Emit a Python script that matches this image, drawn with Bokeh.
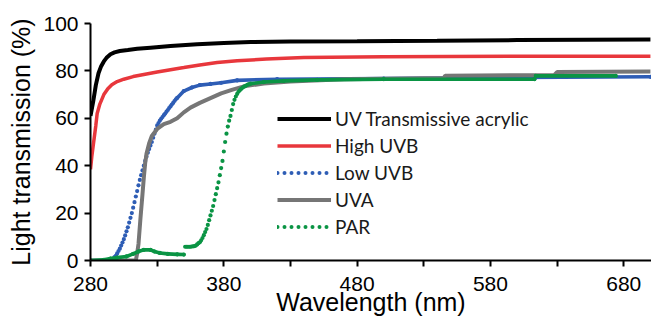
import math
from bokeh.plotting import figure
from bokeh.models import Legend, LegendItem, FixedTicker, Range1d
from bokeh.embed import file_html
from bokeh.resources import INLINE

nan = float("nan")

# UV Transmissive acrylic
wl_acrylic = [280, 282, 284, 286, 288, 290, 292, 295, 298, 302, 308, 315, 325, 340, 360, 380, 400, 430, 480, 540, 600, 650, 700]
tr_acrylic = [61, 67, 74, 79, 82, 84, 85.5, 87, 87.8, 88.4, 88.8, 89.3, 89.8, 90.5, 91.2, 91.8, 92.2, 92.4, 92.5, 92.7, 93.0, 93.1, 93.2]

# High UVB
wl_high = [280, 281, 282.5, 284, 285, 287, 290, 293, 296, 300, 305, 312, 320, 330, 340, 350, 362, 375, 390, 412, 440, 500, 600, 700]
tr_high = [38.5, 44, 50.5, 57, 62, 66, 70, 72.5, 74.2, 75.5, 76.5, 77.6, 78.5, 79.5, 80.5, 81.4, 82.5, 83.5, 84.3, 85.0, 85.7, 86.0, 86.2, 86.2]

# Low UVB (1 nm readings across the steep rise)
wl_low = [280, 290, 295,
          296, 297, 298, 299, 300, 301, 302, 303, 304, 305, 306, 307, 308, 309, 310,
          311, 312, 313, 314, 315, 316, 317, 318, 319, 320, 321, 322, 323, 324, 325,
          326, 327, 328, 329, 330, 331, 332, 333, 334, 335, 336, 337, 338, 339, 340,
          341, 342, 343, 344, 345,
          350, 356, 362, 370, 378, 390, 420, 500, 600, 700]
tr_low = [0, 0, 0.1,
          0.3, 0.8, 1.4, 2.0, 3.0, 4.0, 5.0, 6.3, 7.6, 9.0, 10.6, 12.3, 14.0, 16.0, 18.0,
          20.0, 22.3, 24.6, 27.0, 29.3, 31.7, 34.0, 36.0, 38.0, 40.0, 42.0, 43.8, 45.5, 47.0, 48.5,
          50.0, 51.8, 53.5, 55.2, 57.0, 58.0, 59.0, 59.8, 60.5, 61.3, 62.0, 62.8, 63.5, 64.3, 65.0,
          65.8, 66.5, 67.3, 68.0, 68.6,
          71.5, 73.0, 74.0, 74.5, 75.0, 76.0, 76.5, 76.8, 77.2, 77.5]

# UVA
wl_uva = [280, 300, 314, 315, 316, 317.5, 319, 320, 321, 322, 324, 326, 330, 335, 340, 345, 350, 355, 362, 370, 378, 386, 395, 410, 430, 470, 545, 546, 628, 630, 700]
tr_uva = [0, 0, 0, 3, 7, 18, 28, 35, 41, 45, 49.5, 52.5, 55.5, 57.5, 58.5, 60, 62.5, 64.5, 66.5, 68.5, 70.5, 72, 73.5, 74.7, 75.5, 76.5, 77, 78, 78.3, 79.5, 79.7]

# PAR (1 nm readings across the steep rise; break at 350 nm)
wl_par = [280, 290, 295, 300, 307, 312, 316, 320, 325, 328, 332, 338, 345, 350, 350.5,
          351, 352, 353, 354, 355, 356, 357, 358, 359, 360, 361, 362, 363, 364, 365,
          366, 367, 368, 369, 370, 371, 372, 373, 374, 375, 376, 377, 378, 379, 380,
          381, 382, 383, 384, 385, 386, 387, 388, 389, 390, 391, 392, 393, 394, 395,
          396, 397, 398, 399, 400,
          410, 425, 450, 500, 613, 614, 674]
tr_par = [0, 0.3, 0.8, 1.2, 1.7, 2.8, 3.8, 4.5, 4.5, 3.8, 3.2, 2.8, 2.6, 2.5, nan,
          5.8, 5.8, 5.8, 5.8, 5.8, 5.9, 6.0, 6.1, 6.3, 6.8, 7.3, 7.7, 8.5, 9.5, 10.7,
          12.0, 13.3, 15.0, 17.0, 19.0, 21.0, 23.0, 25.5, 28.0, 30.5, 33.0, 36.0, 39.0, 42.0, 46.0,
          50.0, 53.5, 56.5, 59.0, 61.0, 63.5, 66.0, 67.8, 69.2, 70.3, 71.2, 71.8, 72.4, 72.9, 73.3,
          73.6, 73.9, 74.2, 74.4, 74.6,
          75.3, 75.8, 76.2, 76.5, 76.5, 77.9, 77.9]

series_labels = ["UV Transmissive acrylic", "High UVB", "Low UVB", "UVA", "PAR"]
x_ticks = [280, 330, 380, 430, 480, 530, 580, 630, 680]
y_ticks = [0, 20, 40, 60, 80, 100]
x_title = "Wavelength (nm)"
y_title = "Light transmission (%)"

C_BLACK, C_RED, C_BLUE, C_GRAY, C_GREEN = "#000000", "#e8373c", "#2e5db5", "#767676", "#0a9444"

p = figure(width=651, height=321, output_backend="svg", toolbar_location=None,
           x_range=Range1d(280, 700.8), y_range=Range1d(0, 100),
           min_border_left=90, min_border_right=0, min_border_top=23, min_border_bottom=61)
p.outline_line_color = None
p.grid.visible = False
p.background_fill_color = "white"
p.border_fill_color = "white"


def dotted_series(xs, ys, color):
    # dots at every reading; coarse stretches (sparse readings) joined by solid segments
    x0, y0, x1, y1 = [], [], [], []
    for i in range(len(xs) - 1):
        if xs[i + 1] - xs[i] > 1.5 and not (math.isnan(ys[i]) or math.isnan(ys[i + 1])):
            x0.append(xs[i]); y0.append(ys[i]); x1.append(xs[i + 1]); y1.append(ys[i + 1])
    p.segment(x0, y0, x1, y1, line_color=color, line_width=3.6, line_cap="round")
    px = [x for x, y in zip(xs, ys) if not math.isnan(y)]
    py = [y for y in ys if not math.isnan(y)]
    p.scatter(px, py, marker="circle", size=4.2, fill_color=color, line_color=None)
    # legend stand-in (draws nothing in the plot)
    return p.line([nan, nan], [nan, nan], line_color=color, line_width=4, line_dash="0 7", line_cap="round")


r1 = p.line(wl_acrylic, tr_acrylic, line_color=C_BLACK, line_width=4)
r2 = p.line(wl_high, tr_high, line_color=C_RED, line_width=3.5)
r3 = dotted_series(wl_low, tr_low, C_BLUE)
r4 = p.line(wl_uva, tr_uva, line_color=C_GRAY, line_width=4)
r5 = dotted_series(wl_par, tr_par, C_GREEN)

for ax in (p.xaxis[0], p.yaxis[0]):
    ax.axis_line_width = 2
    ax.major_tick_line_width = 2
    ax.major_tick_out = 6
    ax.major_tick_in = 0
    ax.minor_tick_line_color = None
    ax.major_label_text_font = "Liberation Sans"
    ax.major_label_text_font_size = "21px"
    ax.major_label_text_color = "black"
    ax.axis_label_text_font = "Liberation Sans"
    ax.axis_label_text_font_style = "normal"
    ax.axis_label_text_font_size = "25px"
    ax.axis_label_text_color = "black"

p.xaxis[0].ticker = FixedTicker(ticks=x_ticks)
p.xaxis[0].major_label_overrides = {t: ("" if (t - 280) % 100 else str(t)) for t in x_ticks}
p.xaxis[0].major_label_standoff = 10
p.xaxis[0].axis_label = x_title
p.xaxis[0].axis_label_standoff = -6
p.yaxis[0].ticker = FixedTicker(ticks=y_ticks)
p.yaxis[0].major_label_standoff = 6
p.yaxis[0].axis_label = y_title
p.yaxis[0].axis_label_standoff = 5

legend = Legend(items=[LegendItem(label=l, renderers=[r]) for l, r in zip(series_labels, [r1, r2, r3, r4, r5])],
                location=(187, 22), orientation="vertical",
                glyph_width=54, glyph_height=23, label_height=23, spacing=4,
                label_standoff=4, padding=0, margin=0,
                border_line_color=None, background_fill_alpha=0,
                label_text_font="Lato", label_text_font_size="19px", label_text_color="#1a1a1a")
p.add_layout(legend)

open("out.html", "w").write(file_html(p, INLINE))
